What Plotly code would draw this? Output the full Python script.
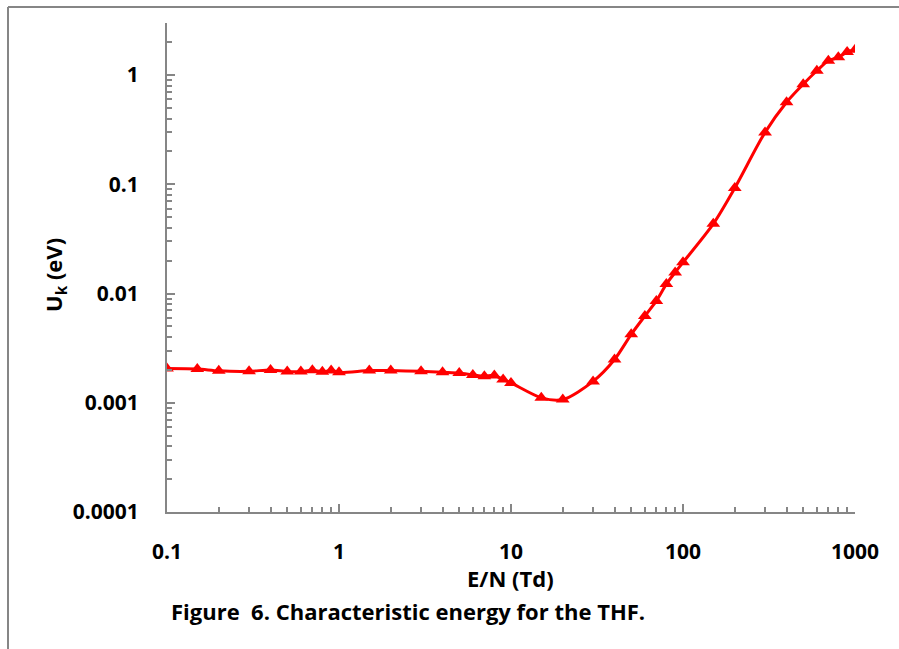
import plotly.graph_objects as go

# Data
en_td = [0.1, 0.15, 0.2, 0.3, 0.4, 0.5, 0.6, 0.7, 0.8, 0.9, 1, 1.5, 2, 3, 4, 5, 6, 7, 8, 9,
         10, 15, 20, 30, 40, 50, 60, 70, 80, 90, 100, 150, 200, 300, 400, 500, 600, 700,
         800, 900, 1000]
uk_ev = [0.00206, 0.00204, 0.00196, 0.00194, 0.00200, 0.00193, 0.00193, 0.00199, 0.00192,
         0.00198, 0.00190, 0.00197, 0.00197, 0.00194, 0.00190, 0.00187, 0.00180, 0.00175,
         0.00178, 0.00163, 0.00152, 0.00111, 0.00107, 0.00157, 0.00249, 0.00423, 0.00623,
         0.00857, 0.0122, 0.0156, 0.0193, 0.0435, 0.0926, 0.299, 0.565, 0.826, 1.096,
         1.355, 1.455, 1.63, 1.71]

x_tick_vals = [0.1, 1, 10, 100, 1000]
x_tick_text = ["0.1", "1", "10", "100", "1000"]
y_tick_vals = [0.0001, 0.001, 0.01, 0.1, 1]
y_tick_text = ["0.0001", "0.001", "0.01", "0.1", "1"]

x_minor = [m * d for d in [0.1, 1, 10, 100] for m in range(2, 10)]
y_minor = [m * d for d in [0.0001, 0.001, 0.01, 0.1, 1] for m in range(2, 10) if m * d <= 3.0001]

AX = "#868686"
FONT = "Open Sans"
RED = "#FF0000"

fig = go.Figure()
fig.add_trace(go.Scatter(
    x=en_td, y=uk_ev, mode="lines+markers",
    line=dict(color=RED, width=3, shape="spline", smoothing=0.8),
    marker=dict(symbol="triangle-up", size=12, color=RED),
    showlegend=False,
))

W, H = 899, 649
L, R, T, B = 167, 44, 23, 137
pw, ph = W - L - R, H - T - B

def px(xp):
    return (xp - L) / pw

def py(yp):
    return (H - B - yp) / ph

fig.update_layout(
    width=W, height=H,
    margin=dict(l=L, r=R, t=T, b=B, pad=0),
    paper_bgcolor="white", plot_bgcolor="white",
    font=dict(family=FONT, color="black"),
    xaxis=dict(
        type="log", range=[-1, 3], showgrid=False, zeroline=False,
        showline=True, linecolor=AX, linewidth=2,
        tickvals=x_tick_vals, ticktext=x_tick_text,
        ticks="inside", ticklen=8, tickcolor=AX, tickwidth=1.5,
        tickfont=dict(family=FONT, size=21, color="black", weight="bold"),
        ticklabelstandoff=20,
        minor=dict(tickvals=x_minor, ticks="inside", ticklen=5, tickcolor=AX, tickwidth=1.5, showgrid=False),
    ),
    yaxis=dict(
        type="log", range=[-4, 0.4771], showgrid=False, zeroline=False,
        showline=True, linecolor=AX, linewidth=2,
        tickvals=y_tick_vals, ticktext=y_tick_text,
        ticks="inside", ticklen=8, tickcolor=AX, tickwidth=1.5,
        tickfont=dict(family=FONT, size=21, color="black", weight="bold"),
        ticklabelstandoff=22,
        minor=dict(tickvals=y_minor, ticks="inside", ticklen=5, tickcolor=AX, tickwidth=1.5, showgrid=False),
    ),
    annotations=[
        dict(text="U<sub>k</sub> (eV)", x=px(55), y=py(275), xref="paper", yref="paper",
             textangle=-90, showarrow=False, xanchor="center", yanchor="middle",
             font=dict(family=FONT, size=22, color="black", weight="bold")),
        dict(text="E/N (Td)", x=px(510), y=py(578), xref="paper", yref="paper",
             showarrow=False, xanchor="center", yanchor="middle",
             font=dict(family=FONT, size=22, color="black", weight="bold")),
        dict(text="Figure  6. Characteristic energy for the THF.", x=px(408), y=py(611),
             xref="paper", yref="paper", showarrow=False, xanchor="center", yanchor="middle",
             font=dict(family=FONT, size=22, color="black", weight="bold")),
    ],
    shapes=[
        dict(type="line", xref="paper", yref="paper", x0=px(8), x1=px(899), y0=py(7), y1=py(7),
             line=dict(color=AX, width=2)),
        dict(type="line", xref="paper", yref="paper", x0=px(8), x1=px(8), y0=py(7), y1=py(649),
             line=dict(color=AX, width=2)),
    ],
)

fig.write_html("out.html", config={"displayModeBar": False},
               post_script="document.body.style.margin='0px';")
